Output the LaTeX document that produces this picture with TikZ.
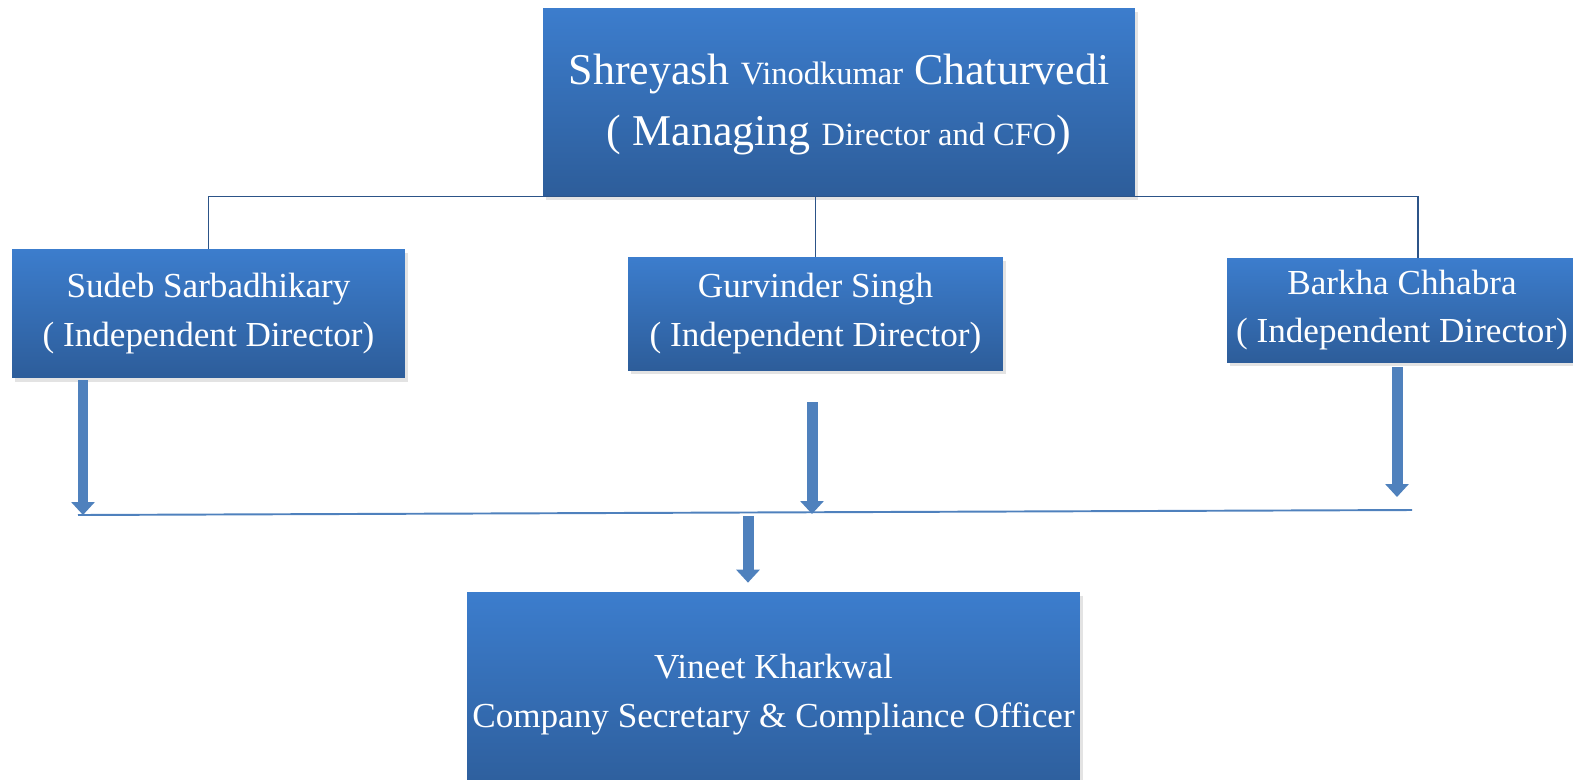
\documentclass[tikz,border=0pt]{standalone}
\usepackage{fontspec}
\setmainfont{Liberation Serif}
\usetikzlibrary{arrows.meta,shadows}
\definecolor{boxtop}{RGB}{60,125,205}
\definecolor{boxbottom}{RGB}{45,93,154}
\definecolor{arrowblue}{RGB}{79,129,189}
\definecolor{linenavy}{RGB}{44,84,136}
\newcommand{\smallpart}[1]{{\fontsize{18.5}{20}\selectfont #1}}
\begin{document}
\begin{tikzpicture}[x=0.02cm, y=-0.02cm,
			bluebox/.style={rectangle, top color=boxtop, bottom color=boxbottom, text=white, align=center, inner sep=0pt, drop shadow={shadow xshift=1.5pt, shadow yshift=-2.5pt, opacity=0.22}},
			namefont/.style={font=\fontsize{20}{27.8}\selectfont},
			thinline/.style={draw=linenavy, line width=0.85pt},
			busline/.style={draw=arrowblue, line width=1.1pt},
			fatarrow/.style={draw=arrowblue, line width=0.22cm, -{Triangle[width=0.46cm, length=0.26cm]}},
			]
	\useasboundingbox (0,0) rectangle (1573,779);

\node[bluebox, minimum width=11.84cm, minimum height=3.76cm, text depth=0.1cm, font=\fontsize{25}{34.6}\selectfont] (shreyash) at (839,102) {Shreyash \smallpart{Vinodkumar} Chaturvedi\\( Managing \smallpart{Director and CFO})};
\node[bluebox, namefont, minimum width=7.86cm, minimum height=2.58cm] (sudeb) at (208.5,313.5) {Sudeb Sarbadhikary\\( Independent Director)};
\node[bluebox, namefont, minimum width=7.5cm, minimum height=2.26cm] (gurvinder) at (815.5,313.5) {Gurvinder Singh\\( Independent Director)};
\node[bluebox, namefont, minimum width=7.0cm, minimum height=2.08cm] (barkha) at (1402,310) {Barkha Chhabra\\( Independent Director)};
\node[bluebox, namefont, minimum width=12.26cm, minimum height=4.1cm] (vineet) at (773.5,694.5) {Vineet Kharkwal\\Company Secretary \& Compliance Officer};

\coordinate (barkhatop) at (1418,258);
\draw[thinline] (sudeb.north |- shreyash.south) -- (barkhatop |- shreyash.south);
\draw[thinline] (sudeb.north |- shreyash.south) -- (sudeb.north);
\draw[thinline] (gurvinder.north |- shreyash.south) -- (gurvinder.north);
\draw[thinline] (barkhatop |- shreyash.south) -- (barkhatop);

\coordinate (busleft) at (78,515);
\coordinate (busright) at (1412,510);
\coordinate (sudebend) at (83,515);
\coordinate (gurvinderend) at (812,514);
\coordinate (barkhaend) at (1397,497);
\coordinate (vineetstart) at (748,516);
\draw[busline] (busleft) -- (busright);
\draw[fatarrow] ([yshift=-0.04cm]sudeb.south -| sudebend) -- (sudebend);
\draw[fatarrow] ([yshift=-0.64cm]gurvinder.south -| gurvinderend) -- (gurvinderend);
\draw[fatarrow] ([yshift=-0.1cm]barkha.south -| barkhaend) -- (barkhaend);
\draw[fatarrow, shorten >=0.18cm] (vineetstart) -- (vineet.north -| vineetstart);

\end{tikzpicture}
\end{document}
